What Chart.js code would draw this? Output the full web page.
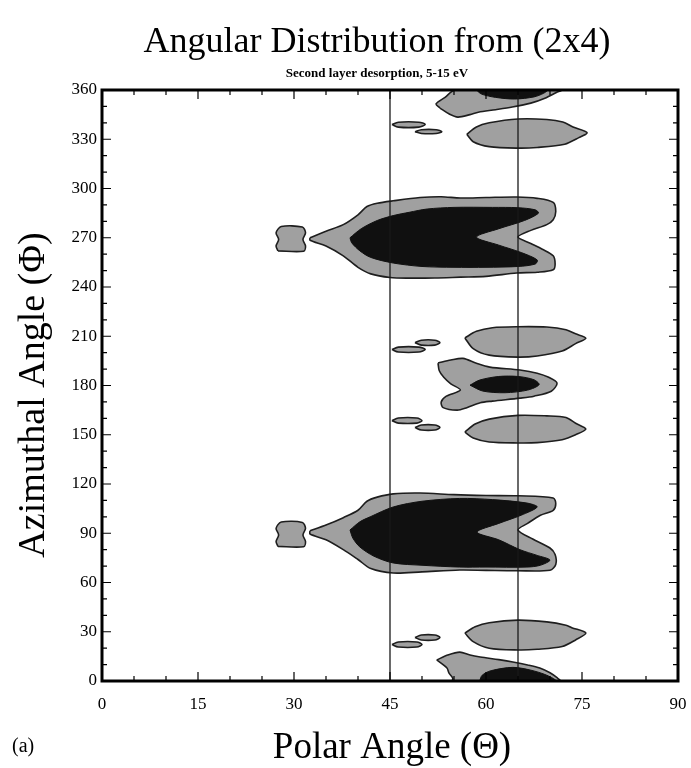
<!DOCTYPE html>
<html><head><meta charset="utf-8">
<script src="https://cdn.jsdelivr.net/npm/chart.js@4.4.0/dist/chart.umd.min.js"></script>
<style>html,body{margin:0;padding:0;background:#fff}canvas{display:block}</style>
</head><body>
<canvas id="c" width="691" height="768"></canvas>
<script>
// ---- axis ticks ----
const xTicks = [0, 15, 30, 45, 60, 75, 90];
const yTicks = [0, 30, 60, 90, 120, 150, 180, 210, 240, 270, 300, 330, 360];
const guideLines = [45, 65];

// ---- contour outlines, [polar θ, azimuth Φ] ----
// lower contour level (grey)
const peak270Outer = [[32.5,270],[35,274],[37.7,278],[40,284],[41.4,289],[43,291],[45.5,292.5],[49.7,294.5],[53,295],[56,294.2],[60,294.5],[64.8,294.8],[68,294],[70.5,291.5],[70.9,286],[70.5,281],[69.5,278],[67,274.5],[65,270.4],[67,266.5],[68.8,263],[70.5,259],[70.8,254],[70.5,250.5],[68,249],[64.8,248.5],[60,246.5],[56,246],[52,245.5],[48,245.4],[45,245.8],[42,248],[40,252],[37.7,259],[35,265],[32.5,268.5]];
const spot270 = [[27.5,262],[31.5,261.8],[31.8,265],[31.4,269],[31.8,273],[31.3,276.5],[28,276.8],[27.2,273],[27.6,269],[27.2,265]];
const peak90Outer = [[32.5,91.5],[35,95],[37.7,99.5],[40,104],[41.4,109.5],[43,112],[45.5,114],[49.7,114.5],[55,113.5],[60,113],[65,112.8],[70.5,111.5],[70.9,108],[70.5,104],[68.5,101],[66.5,96],[65,92],[67.3,86.5],[70,81],[70.8,77],[70.9,71],[70,67.5],[64.8,67.2],[60,67.4],[55.9,67.6],[50,66.5],[45.5,65.8],[42,68.5],[40,74],[37.7,80],[35,86],[32.5,89.5]];
const spot90 = [[27.5,82],[31.5,81.8],[31.8,85],[31.4,89],[31.8,93],[31.3,96.6],[28,96.8],[27.2,93],[27.6,89],[27.2,85]];
const peak360 = [[52.8,349],[54.2,345.5],[55.6,343.5],[57.5,345],[58.8,346.5],[61.5,348],[64.1,349.6],[67,352],[69.2,355],[71,358.5],[71.8,360],[55.2,360],[53.6,355.5],[52.2,351.5]];
const peak330 = [[57,333],[58.5,337.5],[60.5,340],[65,342.3],[69.5,342],[72,340.5],[73.6,337.5],[75.8,334],[74.5,331],[72.3,327],[68,325],[65,324.6],[60.5,325.5],[58,328.5]];
const peak210 = [[56.7,209],[58.5,213],[61,215.2],[65,215.8],[69.5,215.6],[72.5,214],[74,211.5],[75.6,208.8],[74,205.5],[71.9,201],[68,198],[65,197.3],[60.5,198.5],[58,202.5]];
const peak180Outer = [[52.5,193.7],[54.5,195.5],[56.4,196.5],[58.5,193.5],[60.6,191.2],[65.3,189.4],[68,187.5],[69.8,185],[71.1,181.5],[70.2,176.5],[67.5,173.5],[65.3,172.3],[61,170.5],[59.1,169.5],[57,166.5],[55.5,165],[53.3,166.5],[53,170],[53.8,173.5],[56,177.2],[54.5,181],[53.4,185],[52.7,189]];
const peak150 = [[56.7,151.6],[58.3,156.5],[60.5,159.5],[65,161.8],[69.5,161.5],[72.5,160.5],[74,157],[75.6,153.5],[74,150],[71.9,147],[68,145.2],[65,145],[60.5,145.6],[58,148]];
const peak30 = [[56.7,29.2],[58.3,33],[60.5,35.5],[65,37.1],[69.5,36],[72.5,34],[73.4,32.5],[75.6,29.2],[74,25],[71.9,21],[68,19.3],[65,18.9],[60.5,20],[58,24]];
const peak0Outer = [[52.3,12.8],[54,15.8],[55.9,17.6],[57.5,15.8],[59.1,14.6],[62,13],[64.2,11.6],[66.5,9.8],[68.4,7.9],[70,5],[71.1,2],[71.6,0],[54.8,0],[54.8,1.8],[54.2,5],[53.9,7.9]];
const sliverA = [[45.3,339],[46.3,340.4],[49.5,340.4],[50.5,339],[49.5,337.4],[46.3,337.4]];
const sliverB = [[48.9,334.6],[49.9,335.8],[52.2,335.8],[53.1,334.6],[52.2,333.5],[49.9,333.5]];
const sliverC = [[45.3,201.9],[46.3,203.4],[49.5,203.4],[50.5,201.9],[49.5,200.4],[46.3,200.4]];
const sliverD = [[48.9,206.1],[49.9,207.6],[52,207.6],[52.8,206.1],[52,204.6],[49.9,204.6]];
const sliverE = [[45.3,158.6],[46.3,160.2],[49.2,160.2],[50,158.6],[49.2,157.1],[46.3,157.1]];
const sliverF = [[48.9,154.4],[49.9,155.9],[52,155.9],[52.8,154.4],[52,152.9],[49.9,152.9]];
const sliverG = [[45.3,22.2],[46.3,23.8],[49.2,23.8],[50,22.2],[49.2,20.7],[46.3,20.7]];
const sliverH = [[48.9,26.5],[49.9,28],[52,28],[52.8,26.5],[52,25],[49.9,25]];
// upper contour level (black)
const peak270Inner = [[38.75,270],[40.5,275.5],[43,280.5],[45.5,283.5],[48,285.5],[50.8,287.5],[55,288.5],[61,288.5],[65,288.3],[67.7,287],[68.2,285],[66,280.5],[62,275.5],[58.5,270.4],[62,265.5],[65.5,261],[68,256.5],[67.7,254],[65,252.5],[60,252],[55,252],[50,252.5],[45.5,254.6],[42,258],[40.3,262],[39,267]];
const peak90Inner = [[38.75,92],[40.3,97],[41.9,100],[45.5,106],[50,109.5],[55.9,111.2],[61,110.5],[66.4,108.4],[68,106],[65.5,101],[62,96],[58.6,90.7],[62,86],[65.3,80],[68,76.5],[70,73.7],[68.5,70.5],[66.4,69.4],[60,69.4],[55.9,69.4],[50,70.5],[45.5,71.9],[42.5,76],[40.3,81.6],[39.2,87]];
const peak360Inner = [[58.5,360],[59.3,357.5],[61.5,355.5],[64.5,354.5],[67.5,355.8],[69,358],[69.6,360]];
const peak180Inner = [[57.5,180.2],[59,183.3],[62,185.5],[65,185.5],[67.5,183.5],[68.3,180.5],[66.5,177.2],[63,175.6],[59.5,176.6]];
const peak0Inner = [[59,0],[59.4,3.5],[60.8,6.3],[64.2,8.3],[67,6.6],[69.5,3.5],[70.9,0]];

const lightContours = [peak270Outer, spot270, peak90Outer, spot90, peak360, peak330, peak210, peak180Outer, peak150, peak30, peak0Outer, sliverA, sliverB, sliverC, sliverD, sliverE, sliverF, sliverG, sliverH];
const darkContours = [peak270Inner, peak90Inner, peak360Inner, peak180Inner, peak0Inner];

function closed(poly) {
  const pts = poly.map(p => ({x: p[0], y: p[1]}));
  pts.push({x: poly[0][0], y: poly[0][1]});
  return pts;
}

const datasets = [];
guideLines.forEach(g => datasets.push({
  data: [{x: g, y: 0}, {x: g, y: 360}],
  showLine: true, borderColor: '#1a1a1a', borderWidth: 1.3, pointRadius: 0, fill: false, order: 0
}));
darkContours.forEach(c => datasets.push({
  data: closed(c), showLine: true, fill: 'shape', backgroundColor: '#101010',
  borderColor: '#101010', borderWidth: 1, pointRadius: 0, tension: 0.3, order: 1
}));
lightContours.forEach(c => datasets.push({
  data: closed(c), showLine: true, fill: 'shape', backgroundColor: '#a0a0a0',
  borderColor: '#1e1e1e', borderWidth: 1.6, pointRadius: 0, tension: 0.3, order: 2
}));

const serif = "'Liberation Serif', 'DejaVu Serif', serif";

const frameAndText = {
  id: 'frameAndText',
  afterDraw(chart) {
    const ctx = chart.ctx, a = chart.chartArea;
    const xs = chart.scales.x, ys = chart.scales.y;
    ctx.save();
    ctx.strokeStyle = '#000';
    ctx.lineWidth = 1.2;
    for (let v = 0; v <= 90; v += 5) {
      const px = xs.getPixelForValue(v);
      const len = (v % 15 === 0) ? 9 : 5;
      ctx.beginPath();
      ctx.moveTo(px, a.bottom); ctx.lineTo(px, a.bottom - len);
      ctx.moveTo(px, a.top); ctx.lineTo(px, a.top + len);
      ctx.stroke();
    }
    for (let v = 0; v <= 360; v += 10) {
      const py = ys.getPixelForValue(v);
      const len = (v % 30 === 0) ? 9 : 5;
      ctx.beginPath();
      ctx.moveTo(a.left, py); ctx.lineTo(a.left + len, py);
      ctx.moveTo(a.right, py); ctx.lineTo(a.right - len, py);
      ctx.stroke();
    }
    ctx.lineWidth = 3;
    ctx.strokeRect(a.left, a.top, a.right - a.left, a.bottom - a.top);
    ctx.fillStyle = '#000';
    ctx.textAlign = 'center';
    ctx.textBaseline = 'alphabetic';
    ctx.font = '36px ' + serif;
    ctx.fillText('Angular Distribution from (2x4)', 377, 52);
    ctx.font = 'bold 13px ' + serif;
    ctx.fillText('Second layer desorption, 5-15 eV', 377, 77);
    ctx.font = '37px ' + serif;
    ctx.fillText('Polar Angle (\u0398)', 392, 758);
    ctx.font = '20px ' + serif;
    ctx.textAlign = 'left';
    ctx.fillText('(a)', 12, 752);
    ctx.save();
    ctx.translate(44, 395);
    ctx.rotate(-Math.PI / 2);
    ctx.textAlign = 'center';
    ctx.font = '38px ' + serif;
    ctx.fillText('Azimuthal Angle (\u03A6)', 0, 0);
    ctx.restore();
    ctx.restore();
  }
};

new Chart(document.getElementById('c'), {
  type: 'scatter',
  data: { datasets },
  options: {
    responsive: false,
    animation: false,
    layout: { padding: { top: 90, right: 13, left: 0, bottom: 0 } },
    plugins: { legend: { display: false }, tooltip: { enabled: false }, title: { display: false } },
    scales: {
      x: {
        type: 'linear', min: 0, max: 90,
        afterBuildTicks: s => { s.ticks = xTicks.map(v => ({value: v})); },
        afterFit: s => { s.height = 87; s.paddingLeft = 0; s.paddingRight = 0; },
        grid: { display: false, drawTicks: false },
        border: { display: false },
        ticks: { color: '#000', padding: 13, font: { family: serif, size: 17 } }
      },
      y: {
        type: 'linear', min: 0, max: 360,
        afterBuildTicks: s => { s.ticks = yTicks.map(v => ({value: v})); },
        afterFit: s => { s.width = 102; s.paddingTop = 0; s.paddingBottom = 0; },
        grid: { display: false, drawTicks: false },
        border: { display: false },
        ticks: { color: '#000', padding: 5, font: { family: serif, size: 17 } }
      }
    }
  },
  plugins: [frameAndText]
});
</script>
</body></html>
